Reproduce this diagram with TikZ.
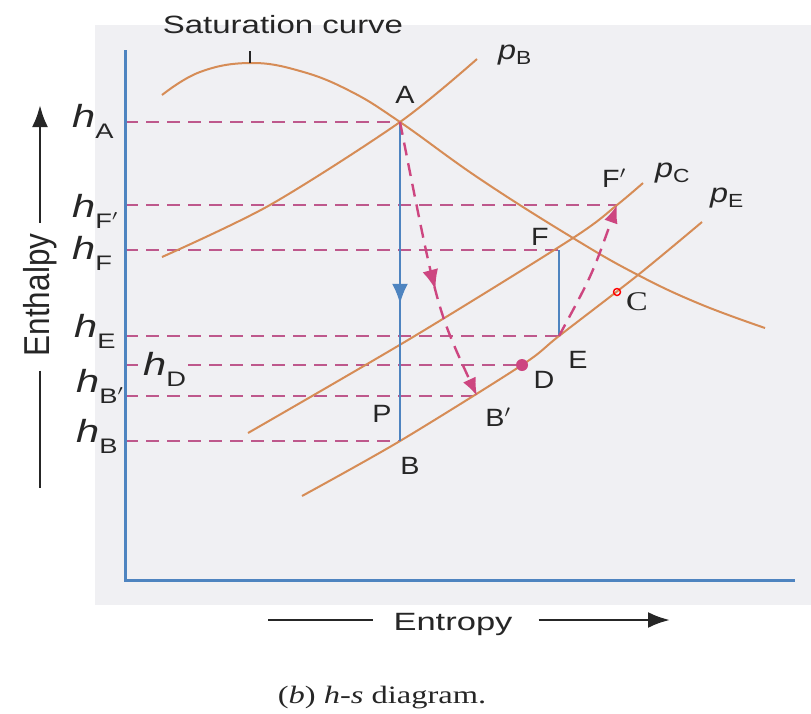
\documentclass[tikz,border=0pt]{standalone}
\usepackage{fontspec}
\setmainfont{Liberation Serif}
\setsansfont{Liberation Sans}
\usetikzlibrary{arrows.meta,decorations.markings}

\newcommand{\stx}[2][1.3]{\scalebox{#1}[1]{#2}}
\newcommand{\hsub}[1]{\stx{\fontsize{32}{32}\selectfont\itshape h\raisebox{-11pt}{\fontsize{21}{21}\selectfont\upshape #1}}}
\newcommand{\psub}[1]{\stx[1.2]{\fontsize{27}{27}\selectfont\itshape p\raisebox{-5pt}{\fontsize{19}{19}\selectfont\upshape #1}}}

\begin{document}
\begin{tikzpicture}[x=1pt,y=-1pt,
    pline/.style={draw=curveorange,line width=2pt},
    hdash/.style={draw=dashpink,line width=2.6pt,dash pattern=on 13pt off 8pt},
    flow/.style={color=flowblue,line width=2.4pt},
    proc/.style={color=procpink,line width=2.4pt,dash pattern=on 13pt off 8pt},
    midarrow/.style={postaction={decorate,decoration={markings,
        mark=at position #1 with {\arrow{Latex[length=20pt,width=16pt]}}}}},
    ptlabel/.style={font=\sffamily\fontsize{25}{25}\selectfont,text=txtgray,inner sep=0pt},
    axtext/.style={font=\sffamily\fontsize{25}{25}\selectfont,text=txtgray},
    axline/.style={draw=txtgray,line width=2.8pt}]
    \definecolor{curveorange}{RGB}{214,140,86}
    \definecolor{dashpink}{RGB}{190,88,140}
    \definecolor{procpink}{RGB}{205,70,128}
    \definecolor{flowblue}{RGB}{78,132,192}
    \definecolor{txtgray}{RGB}{38,38,38}
    \definecolor{panelgray}{RGB}{240,240,243}

    % scanned panel
    \fill[panelgray] (95,25) rectangle (811,605);
    \useasboundingbox (0,0) rectangle (811,713);

    % state points
    \coordinate (A) at (400,122);
    \coordinate (B) at (400,441);
    \coordinate (Bp) at (477,396);
    \coordinate (D) at (522,365);
    \coordinate (E) at (559,336);
    \coordinate (F) at (559,250);
    \coordinate (Fp) at (617,205);
    \coordinate (C) at (617,292);
    \coordinate (yax) at (125,0);

    % enthalpy levels
    \foreach \p in {A,Fp,F,E,D,Bp,B}
        \draw[hdash] (\p -| yax) -- (\p);

    % axes
    \coordinate (ytop) at (125,50);
    \coordinate (orig) at (125,580);
    \coordinate (xend) at (795,580);
    \draw[draw=flowblue,line width=3pt] (ytop) -- (orig) -- (xend);

    % saturation curve
    \draw[pline] plot[smooth,tension=0.7] coordinates {(162,95) (200,72) (250,63)
        (300,71) (350,91) (A) (480,179) (573,238) (638,275) (700,304) (765,328)};
    \draw[draw=txtgray,line width=2pt] (250,51) -- (250,63);
    \node[axtext,anchor=base] (sat) at (283,33) {\stx[1.32]{Saturation curve}};

    % pressure lines
    \draw[pline] plot[smooth] coordinates {(162,257) (270,205) (A) (477,59)};
    \draw[pline] plot[smooth] coordinates {(248,433) (413,337) (573,238) (Fp) (643,183)};
    \draw[pline] plot[smooth] coordinates {(302,496) (B) (D) (E) (638,275) (702,222)};

    % expansions
    \draw[flow,midarrow=0.57] (A) -- (B);
    \draw[flow] (F) -- (E);
    \draw[proc,midarrow=0.6,-{Latex[length=18pt,width=14pt]}]
        (A) .. controls (437,309) .. (Bp);
    \draw[proc,-{Latex[length=18pt,width=14pt]}]
        (E) .. controls (592,275) .. (Fp);

    \fill[procpink] (D) circle (6pt);
    \draw[red,line width=1.4pt] (C) circle (3.5pt);

    % point labels
    \node[ptlabel] (lA) at (405,95) {\stx[1.15]{A}};
    \node[ptlabel] (lB) at (410,466) {\stx[1.15]{B}};
    \node[ptlabel] (lBp) at (498,417) {\stx[1.15]{B$'$}};
    \node[ptlabel] (lP) at (382,414) {\stx[1.15]{P}};
    \node[ptlabel] (lD) at (544,380) {\stx[1.15]{D}};
    \node[ptlabel] (lE) at (578,360) {\stx[1.15]{E}};
    \node[ptlabel] (lF) at (540,237) {\stx[1.15]{F}};
    \node[ptlabel] (lFp) at (614,178) {\stx[1.15]{F$'$}};
    \node[inner sep=0pt,font=\fontsize{27}{27}\selectfont,text=txtgray] (lC) at (637,302) {\stx[1.2]{C}};
    \node[ptlabel,anchor=base west] (pB) at (498,59) {\psub{B}};
    \node[ptlabel,anchor=base west] (pC) at (655,177) {\psub{C}};
    \node[ptlabel,anchor=base west] (pE) at (710,202) {\psub{E}};

    % enthalpy labels
    \node[ptlabel,anchor=base west] (hA) at (72,127) {\hsub{A}};
    \node[ptlabel,anchor=base west] (hFp) at (72,217) {\hsub{F$'$}};
    \node[ptlabel,anchor=base west] (hF) at (72,259) {\hsub{F}};
    \node[ptlabel,anchor=base west] (hE) at (74,337) {\hsub{E}};
    \node[ptlabel,anchor=base west,fill=panelgray,inner sep=1pt] (hD) at (142,375) {\hsub{D}};
    \node[ptlabel,anchor=base west] (hBp) at (76,392) {\hsub{B$'$}};
    \node[ptlabel,anchor=base west] (hB) at (76,442) {\hsub{B}};

    % axis titles
    \node[axtext,rotate=90,inner sep=0pt] (enth) at (40,295)
        {\scalebox{1.05}[1.2]{\fontsize{30}{30}\selectfont Enthalpy}};
    \coordinate (enthtip) at (40,105);
    \coordinate (enthbot) at (40,488);
    \draw[axline,-{Latex[length=22pt,width=16pt]}] ([yshift=11pt]enthtip |- enth.east) -- (enthtip);
    \draw[axline] ([yshift=-14pt]enthbot |- enth.west) -- (enthbot);

    \node[axtext,anchor=base,inner sep=0pt] (entr) at (453,630) {\stx[1.38]{Entropy}};
    \coordinate (entrleft) at (268,620);
    \coordinate (entrright) at (670,620);
    \draw[axline] (entrleft) -- ([xshift=-20pt]entrleft -| entr.west);
    \draw[axline,-{Latex[length=22pt,width=16pt]}] ([xshift=26pt]entrright -| entr.east) -- (entrright);

    \node[anchor=base,font=\fontsize{25}{25}\selectfont,text=txtgray] (capt) at (382,703)
        {\stx{(\textit{b}) \textit{h-s} diagram.}};
\end{tikzpicture}
\end{document}
